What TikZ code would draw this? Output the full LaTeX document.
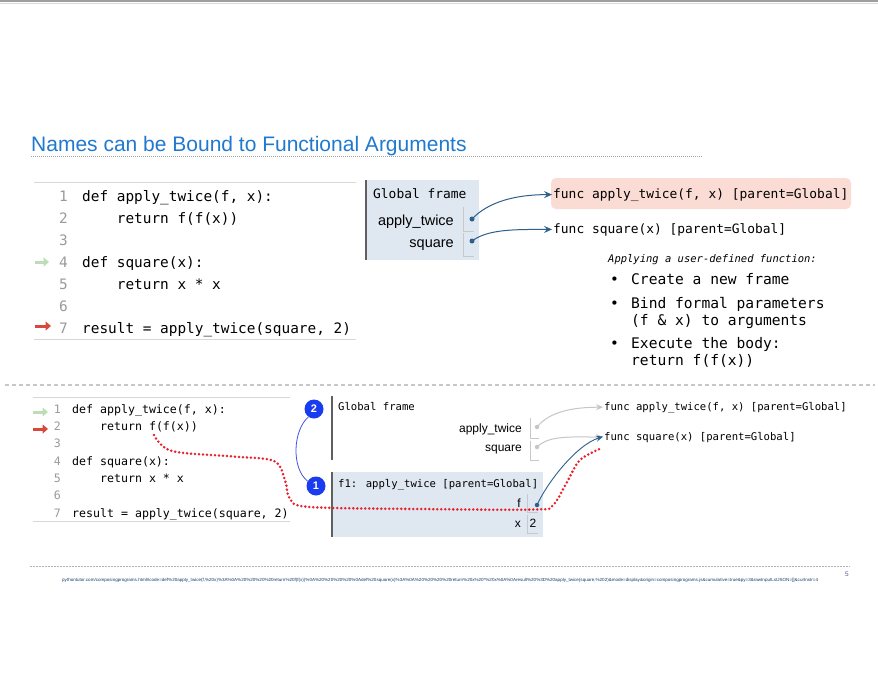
\documentclass[tikz,border=0pt]{standalone}
\usepackage{fontspec}
\usepackage{graphicx}
\setmainfont{Liberation Sans}
\newfontfamily\codefont{DejaVu Sans Mono}
\usetikzlibrary{arrows.meta,calc}

\newcommand\fsz[1]{\fontsize{#1}{#1}\selectfont}

\definecolor{titleblue}{HTML}{2079D0}
\definecolor{framefill}{HTML}{DFE7F1}
\definecolor{framebar}{HTML}{606060}
\definecolor{cellgray}{HTML}{C8C8C8}
\definecolor{ptrblue}{HTML}{2C5F8B}
\definecolor{pinkbox}{HTML}{FADCD4}
\definecolor{stepblue}{HTML}{1A3CF0}
\definecolor{arcblue}{HTML}{3F51E0}
\definecolor{dotred}{HTML}{E8212B}
\definecolor{gutgreen}{HTML}{BCDDB6}
\definecolor{gutred}{HTML}{D9483C}
\definecolor{lngray}{HTML}{9A9A9A}
\definecolor{oldgray}{HTML}{C6C6C6}
\definecolor{rulegray}{HTML}{D8D8D8}

\begin{document}
\begin{tikzpicture}[x=1pt,y=-1pt,
  title/.style={anchor=base west, inner sep=0, text=titleblue, font=\fsz{21}},
  lnumA/.style={anchor=base east, inner sep=0, text=lngray, font=\codefont\fsz{14.4}},
  codeA/.style={anchor=base west, inner sep=0, font=\codefont\fsz{14.4}},
  lnumB/.style={anchor=base east, inner sep=0, text=lngray, font=\codefont\fsz{11.6}},
  codeB/.style={anchor=base west, inner sep=0, font=\codefont\fsz{11.6}},
  framehead/.style={anchor=base west, inner sep=0, font=\codefont\fsz{#1}},
  varname/.style={anchor=base east, inner sep=0, font=\fsz{#1}},
  funclabel/.style={anchor=base west, inner sep=0, font=\codefont\fsz{#1}},
  bultext/.style={anchor=base west, inner sep=0, font=\codefont\fsz{14.6}},
  ptrdot/.style={circle, fill=#1, inner sep=0, minimum size=5pt},
  ptr/.style={line width=1pt, ptrblue, -{Stealth[length=8pt,width=7pt,inset=3pt]}},
  oldptr/.style={line width=1pt, oldgray, -{Stealth[length=7pt,width=6pt,inset=2.5pt]}},
  gutter/.style={line width=3pt, -{Triangle[length=5.5pt,width=9pt]}},
  cell/.style={cellgray, line width=0.8pt},
  bar/.style={framebar, line width=1.8pt},
  stepmark/.style={circle, fill=stepblue, text=white, font=\bfseries\fsz{11}, minimum size=19pt, inner sep=0},
]
\useasboundingbox (0,0) rectangle (878,681);
\fill[white] (0,0) rectangle (878,681);

% slide edge
\fill[black!38] (0,0) rectangle (878,2);
\draw[black!15, line width=0.6pt] (0,2.8) -- (878,2.8);

% heading
\node[title] (title) at (31,151) {Names can be Bound to Functional Arguments};
\draw[black!35, line width=0.6pt, dash pattern=on 1pt off 1pt] (31,156.5) -- (702,156.5);

% ---------- upper code listing ----------
\draw[rulegray, line width=1pt] (34,182) -- (356,182);
\draw[rulegray, line width=1pt] (34,339) -- (356,339);
\node[lnumA] (tl1) at (68,201) {1}; \node[codeA] (tc1) at (82,201) {def apply\_twice(f, x):};
\node[lnumA] (tl2) at (68,223) {2}; \node[codeA] (tc2) at (82,223) {\hphantom{xxxx}return f(f(x))};
\node[lnumA] (tl3) at (68,245) {3};
\node[lnumA] (tl4) at (68,267) {4}; \node[codeA] (tc4) at (82,267) {def square(x):};
\node[lnumA] (tl5) at (68,289) {5}; \node[codeA] (tc5) at (82,289) {\hphantom{xxxx}return x * x};
\node[lnumA] (tl6) at (68,311) {6};
\node[lnumA] (tl7) at (68,333) {7}; \node[codeA] (tc7) at (82,333) {result = apply\_twice(square, 2)};
\coordinate (tg4a) at (35,262); \coordinate (tg4b) at (49,262);
\coordinate (tg7a) at (35,326); \coordinate (tg7b) at (51,326);
\draw[gutter, gutgreen] (tg4a) -- (tg4b);
\draw[gutter, gutred] (tg7a) -- (tg7b);

% ---------- upper global frame ----------
\fill[framefill] (366,180) rectangle (479,260);
\draw[bar] (366,180) -- (366,260);
\node[framehead=12.9] (gf) at (373,198) {Global frame};
\node[varname=14.5] (va) at (454,225) {apply\_twice};
\node[varname=14.5] (vs) at (454,247) {square};
\draw[cell] (463,207) -- (463,231) -- (474,231);
\draw[cell] (463,233) -- (463,256) -- (474,256);
\node[ptrdot=ptrblue] (da) at (472,219) {};
\node[ptrdot=ptrblue] (ds) at (472,241) {};

% function objects
\fill[pinkbox, rounded corners=5pt] (551,178) rectangle (851,209);
\node[funclabel=12.9] (fa) at (553,198) {func apply\_twice(f, x) [parent=Global]};
\node[funclabel=12.9] (fs) at (553,233) {func square(x) [parent=Global]};
\draw[ptr] (da.center) .. controls ($(da)+(16,-17)$) and ($(fa.west)+(-38,0)$) .. ($(fa.west)+(-1,0)$);
\draw[ptr] (ds.center) .. controls ($(ds)+(16,-12)$) and ($(fs.west)+(-38,0)$) .. ($(fs.west)+(-1,0)$);

% steps of a call
\node[anchor=base west, inner sep=0, font=\codefont\itshape\fsz{10.5}] (apply) at (608,262) {Applying a user-defined function:};
\node[bultext] (b1) at (610,284) {•}; \node[bultext] (t1) at (631,284) {Create a new frame};
\node[bultext] (b2) at (610,308) {•}; \node[bultext] (t2) at (631,308) {Bind formal parameters};
\node[bultext] (t2b) at (631,325) {(f \& x) to arguments};
\node[bultext] (b3) at (610,348) {•}; \node[bultext] (t3) at (631,348) {Execute the body:};
\node[bultext] (t3b) at (631,365) {return f(f(x))};

% separator
\draw[black!22, line width=1.4pt, dash pattern=on 4pt off 3pt] (5,385) -- (875,385);

% ---------- lower code listing ----------
\draw[rulegray, line width=0.8pt] (33,397) -- (290,397);
\draw[rulegray, line width=0.8pt] (33,521) -- (290,521);
\node[lnumB] (bl1) at (61,413) {1};   \node[codeB] (bc1) at (72,413) {def apply\_twice(f, x):};
\node[lnumB] (bl2) at (61,430.3) {2}; \node[codeB] (bc2) at (72,430.3) {\hphantom{xxxx}return f(f(x))};
\node[lnumB] (bl3) at (61,447.7) {3};
\node[lnumB] (bl4) at (61,465) {4};   \node[codeB] (bc4) at (72,465) {def square(x):};
\node[lnumB] (bl5) at (61,482.3) {5}; \node[codeB] (bc5) at (72,482.3) {\hphantom{xxxx}return x * x};
\node[lnumB] (bl6) at (61,499.7) {6};
\node[lnumB] (bl7) at (61,517) {7};   \node[codeB] (bc7) at (72,517) {result = apply\_twice(square, 2)};
\coordinate (bg1a) at (33,412); \coordinate (bg1b) at (48,412);
\coordinate (bg2a) at (33,429); \coordinate (bg2b) at (48,429);
\draw[gutter, gutgreen] (bg1a) -- (bg1b);
\draw[gutter, gutred] (bg2a) -- (bg2b);

% ---------- lower global frame ----------
\draw[bar] (332,396) -- (332,460);
\node[framehead=10.6] (gf2) at (338,410) {Global frame};
\node[varname=12] (va2) at (522,432) {apply\_twice};
\node[varname=12] (vs2) at (522,451) {square};
\draw[cell] (530,418) -- (530,438.5) -- (539,438.5);
\draw[cell] (530,440.5) -- (530,460) -- (539,460);
\node[ptrdot=oldgray, minimum size=4.5pt] (da2) at (537,427) {};
\node[ptrdot=oldgray, minimum size=4.5pt] (ds2) at (537,447) {};
\node[funclabel=10.6] (fa2) at (604,410) {func apply\_twice(f, x) [parent=Global]};
\node[funclabel=10.6] (fs2) at (604,440) {func square(x) [parent=Global]};
\draw[oldptr] (da2.center) .. controls ($(da2)+(12,-15)$) and ($(fa2.west)+(-32,0)$) .. ($(fa2.west)+(-1,0)$);
\draw[oldptr] (ds2.center) .. controls ($(ds2)+(12,-12)$) and ($(fs2.west)+(-32,0)$) .. ($(fs2.west)+(-1,0)$);

% ---------- frame f1 ----------
\fill[framefill] (332,472) rectangle (543,537);
\draw[bar] (332,472) -- (332,537);
\node[framehead=10.6] (f1) at (338,487) {f1: apply\_twice [parent=Global]};
\node[varname=12] (vf) at (521,507) {f};
\node[varname=12] (vx) at (521,527) {x};
\draw[cell] (527,494) -- (527,512.5) -- (538,512.5);
\draw[cell] (527,514.5) -- (527,533) -- (538,533);
\node[anchor=base west, inner sep=0, font=\fsz{12}] (vx2) at (529.5,527) {2};
\node[ptrdot=ptrblue, minimum size=4.5pt] (df) at (537,505) {};
\draw[ptr, line width=0.9pt, -{Stealth[length=7pt,width=6pt,inset=2.5pt]}] (df.center) .. controls ($(df)+(10,-22)$) and ($(fs2.west)+(-28,8)$) .. ($(fs2.west)+(-1,-0.5)$);

% ---------- step markers ----------
\node[stepmark] (s2) at (314,409) {2};
\node[stepmark] (s1) at (316,486) {1};
\draw[arcblue, line width=0.8pt] (s2.235) .. controls (293,430) and (291,468) .. (s1.150);

% call site to the called function
\coordinate (callsite) at (154,435);
\coordinate (callee) at (602,448);
\draw[dotred, line width=2.8pt, line cap=round, dash pattern=on 0pt off 4pt]
  plot[smooth, tension=0.55] coordinates {(callsite) (172,451) (233,456.5) (274,461) (285,480) (290,499) (310,507) (420,509) (535,509.5) (553,505) (567,482) (580,460) (callee)};

% footer
\draw[black!30, line width=0.6pt, dash pattern=on 2pt off 1pt] (30,566) -- (850,566);
\node[anchor=base east, inner sep=0, text=black!35!blue!30!gray, font=\fsz{6.5}] (pg) at (849,576) {5};
\node[anchor=base west, inner sep=0, text=titleblue!50!black] (url) at (62,581) {\resizebox{756pt}{3.2pt}{\fsz{6}pythontutor.com/composingprograms.html\#code=def\%20apply\_twice(f,\%20x)\%3A\%0A\%20\%20\%20\%20return\%20f(f(x))\%0A\%20\%20\%20\%20\%0Adef\%20square(x)\%3A\%0A\%20\%20\%20\%20return\%20x\%20*\%20x\%0A\%0Aresult\%20\%3D\%20apply\_twice(square,\%202)\&mode=display\&origin=composingprograms.js\&cumulative=true\&py=3\&rawInputLstJSON=[]\&curInstr=4}};
\end{tikzpicture}
\end{document}
